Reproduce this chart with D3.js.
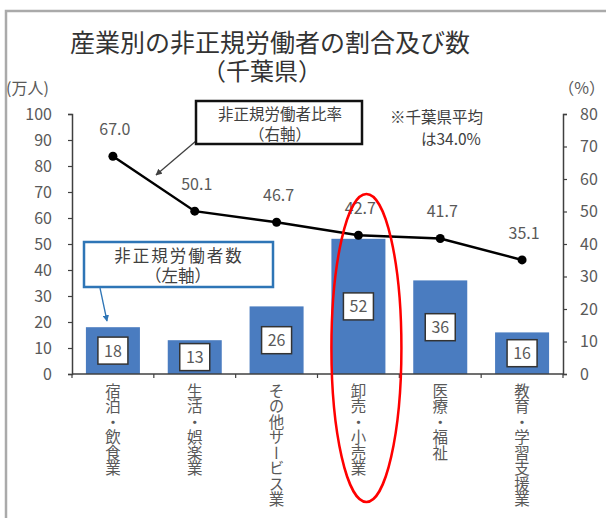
<!DOCTYPE html>
<html>
<head>
<meta charset="utf-8">
<script src="https://cdn.jsdelivr.net/npm/d3@7"></script>
<style>
  body { margin: 0; background: #fff; }
  svg { display: block; font-family: "Noto Sans CJK JP", "Noto Sans", sans-serif; }
</style>
</head>
<body>
<svg width="606" height="518"></svg>
<script>
// data
const categories = ["宿泊・飲食業", "生活・娯楽業", "その他サービス業", "卸売・小売業", "医療・福祉", "教育・学習支援業"];
const workers = [18, 13, 26, 52, 36, 16]; // 万人, left axis
const ratio = [67.0, 50.1, 46.7, 42.7, 41.7, 35.1]; // %, right axis
const leftTicks = [0, 10, 20, 30, 40, 50, 60, 70, 80, 90, 100];
const rightTicks = [0, 10, 20, 30, 40, 50, 60, 70, 80];

var svg = d3.select("svg"),
  plotLeft = 72,
  plotRight = 563,
  plotTop = 114,
  plotBottom = 374,
  grey = "#595959";

var x = d3.scaleBand().domain(categories).range([plotLeft, plotRight]).paddingInner(0.34).paddingOuter(0.17);
var yL = d3.scaleLinear().domain([0, 100]).range([plotBottom, plotTop]);
var yR = d3.scaleLinear().domain([0, 80]).range([plotBottom, plotTop]);
var cx = function (d) { return x(d) + x.bandwidth() / 2; };

var defs = svg.append("defs");
[["arrBlack", "#404040"], ["arrBlue", "#2e75b6"]].forEach(function (m) {
  defs.append("marker")
    .attr("id", m[0])
    .attr("viewBox", "0 0 10 10")
    .attr("refX", 9).attr("refY", 5)
    .attr("markerWidth", 5).attr("markerHeight", 5)
    .attr("orient", "auto")
    .append("path").attr("d", "M0,0L10,5L0,10z").attr("fill", m[1]);
});

// outer frame (partly visible)
svg.append("path")
  .attr("d", "M6,518V11H606")
  .attr("fill", "none")
  .attr("stroke", "#aaa")
  .attr("stroke-width", 2.5);

// title
svg.append("text").attr("x", 270).attr("y", 52).attr("text-anchor", "middle")
  .attr("font-size", 25).attr("fill", "#333").text("産業別の非正規労働者の割合及び数");
svg.append("text").attr("x", 262).attr("y", 80).attr("text-anchor", "middle")
  .attr("font-size", 24).attr("fill", "#333").text("（千葉県）");

svg.append("text").attr("x", 6).attr("y", 94).attr("font-size", 16).attr("fill", grey).text("(万人)");
svg.append("text").attr("x", 605).attr("y", 94).attr("text-anchor", "end").attr("font-size", 16).attr("fill", grey).text("（%）");

// bars
svg.append("g").selectAll("rect")
  .data(categories)
  .enter().append("rect")
  .attr("x", function (d) { return x(d); })
  .attr("y", function (d, i) { return yL(workers[i]); })
  .attr("width", x.bandwidth())
  .attr("height", function (d, i) { return plotBottom - yL(workers[i]); })
  .attr("fill", "#4a7cc0");

// axes
var axL = svg.append("g").attr("transform", "translate(" + plotLeft + ",0)")
  .call(d3.axisLeft(yL).tickValues(leftTicks).tickSize(4).tickPadding(16));
var axR = svg.append("g").attr("transform", "translate(" + plotRight + ",0)")
  .call(d3.axisRight(yR).tickValues(rightTicks).tickSize(4).tickPadding(13));
[axL, axR].forEach(function (a) {
  a.select(".domain").attr("stroke", "#404040").attr("stroke-width", 1.5);
  a.selectAll(".tick line").attr("stroke", "#404040").attr("stroke-width", 1.2);
  a.selectAll(".tick text").attr("font-size", 16).attr("fill", grey)
    .attr("font-family", "\"Noto Sans CJK JP\", sans-serif");
});

svg.append("line").attr("x1", plotLeft).attr("x2", plotRight).attr("y1", plotBottom).attr("y2", plotBottom)
  .attr("stroke", "#404040").attr("stroke-width", 1.5);
svg.append("g").selectAll("line")
  .data(categories.concat(["end"]))
  .enter().append("line")
  .attr("x1", function (d, i) { return plotLeft + i * x.step(); })
  .attr("x2", function (d, i) { return plotLeft + i * x.step(); })
  .attr("y1", plotBottom).attr("y2", plotBottom + 4)
  .attr("stroke", "#404040").attr("stroke-width", 1.2);

// category labels, vertical
svg.append("g").selectAll("text")
  .data(categories)
  .enter().append("text")
  .attr("x", cx)
  .attr("y", 383)
  .attr("writing-mode", "vertical-rl")
  .attr("font-size", 15.5)
  .attr("fill", grey)
  .text(function (d) { return d; });

// value boxes
var vb = svg.append("g").selectAll("g")
  .data(categories)
  .enter().append("g")
  .attr("transform", function (d, i) {
    return "translate(" + cx(d) + "," + (yL(workers[i]) + plotBottom) / 2 + ")";
  });
vb.append("rect").attr("x", -15).attr("y", -13.5).attr("width", 30).attr("height", 27)
  .attr("fill", "#fff").attr("stroke", "#333").attr("stroke-width", 1.5);
vb.append("text").attr("y", 6).attr("text-anchor", "middle").attr("font-size", 16).attr("fill", grey)
  .text(function (d, i) { return workers[i]; });

// ratio line
var line = d3.line()
  .x(function (d, i) { return cx(categories[i]); })
  .y(function (d) { return yR(d); });
svg.append("path").datum(ratio).attr("d", line)
  .attr("fill", "none").attr("stroke", "#000").attr("stroke-width", 2.5);
svg.append("g").selectAll("circle")
  .data(ratio)
  .enter().append("circle")
  .attr("cx", function (d, i) { return cx(categories[i]); })
  .attr("cy", yR)
  .attr("r", 4.5)
  .attr("fill", "#000");
svg.append("g").selectAll("text")
  .data(ratio)
  .enter().append("text")
  .attr("x", function (d, i) { return cx(categories[i]) + 2; })
  .attr("y", function (d) { return yR(d) - 21; })
  .attr("text-anchor", "middle")
  .attr("font-size", 16)
  .attr("fill", grey)
  .text(function (d) { return d.toFixed(1); });

// callout: ratio (right axis)
svg.append("line").attr("x1", 196).attr("y1", 141).attr("x2", 156).attr("y2", 175)
  .attr("stroke", "#404040").attr("stroke-width", 1.3).attr("marker-end", "url(#arrBlack)");
svg.append("rect").attr("x", 196).attr("y", 101).attr("width", 166).attr("height", 43)
  .attr("fill", "#fff").attr("stroke", "#111").attr("stroke-width", 2.5);
svg.append("text").attr("x", 280).attr("y", 120).attr("text-anchor", "middle").attr("font-size", 15.5)
  .attr("fill", "#404040").text("非正規労働者比率");
svg.append("text").attr("x", 280).attr("y", 140).attr("text-anchor", "middle").attr("font-size", 15.5)
  .attr("fill", "#404040").text("（右軸）");

svg.append("text").attr("x", 390).attr("y", 123).attr("font-size", 15.5).attr("fill", "#404040").text("※千葉県平均");
svg.append("text").attr("x", 421).attr("y", 145).attr("font-size", 15.5).attr("fill", "#404040").text("は34.0%");

// callout: workers (left axis)
svg.append("line").attr("x1", 100).attr("y1", 288).attr("x2", 107).attr("y2", 321)
  .attr("stroke", "#2e75b6").attr("stroke-width", 1.3).attr("marker-end", "url(#arrBlue)");
svg.append("rect").attr("x", 84).attr("y", 242).attr("width", 189).attr("height", 45)
  .attr("fill", "#fff").attr("stroke", "#2e75b6").attr("stroke-width", 2.5);
svg.append("text").attr("x", 179).attr("y", 262).attr("text-anchor", "middle").attr("font-size", 16.5)
  .attr("letter-spacing", 2).attr("fill", "#404040").text("非正規労働者数");
svg.append("text").attr("x", 178).attr("y", 282).attr("text-anchor", "middle").attr("font-size", 16.5)
  .attr("fill", "#404040").text("（左軸）");

// red highlight ellipse
svg.append("ellipse")
  .attr("cx", cx("卸売・小売業") + 8).attr("cy", 348)
  .attr("rx", 35).attr("ry", 154)
  .attr("fill", "none").attr("stroke", "#f00").attr("stroke-width", 2.5);
</script>
</body>
</html>
